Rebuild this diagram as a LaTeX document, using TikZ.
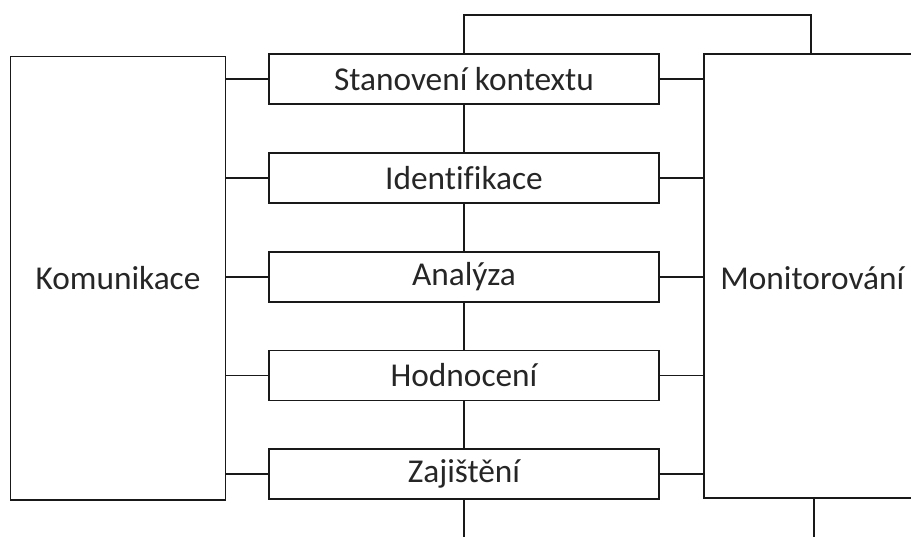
\documentclass[tikz,border=0pt]{standalone}
\usepackage{fontspec}
\setmainfont[Ligatures={NoCommon}]{Carlito}
\begin{document}
\begin{tikzpicture}[x=0.75pt,y=-0.75pt,
  ln/.style={draw=black!90, line width=1.3pt},
  lbl/.style={font=\fontsize{25}{29}\selectfont, text=black!85},
  stepbox/.style={ln, lbl, rectangle, minimum width=390*0.75pt, minimum height=50*0.75pt, inner sep=0pt},
  sidebox/.style={ln, lbl, rectangle, minimum width=215*0.75pt, minimum height=443.5*0.75pt, inner sep=0pt}]
\useasboundingbox (0,0) rectangle (911,536);
\clip (0,0) rectangle (911,536);
\node[sidebox] (kom) at (118,278.3) {Komunikace};
\node[sidebox, minimum width=216*0.75pt, minimum height=444.3*0.75pt] (mon) at (812.3,276.2) {};
\node[lbl] (monl) at (812.3,278) {Monitorování};
\node[stepbox] (s1) at (464,79.3) {Stanovení kontextu};
\node[stepbox] (s2) at (464,178) {Identifikace};
\node[stepbox] (s3) at (464,276.7) {Analýza};
\node[stepbox] (s4) at (464,375.4) {Hodnocení};
\node[stepbox] (s5) at (464,474.1) {Zajištění};
\foreach \i in {1,...,5}{
  \draw[ln] (kom.east |- s\i.west) -- (s\i.west);
  \draw[ln] (s\i.east) -- (mon.west |- s\i.east);
}
\draw[ln] (s1.south) -- (s2.north);
\draw[ln] (s2.south) -- (s3.north);
\draw[ln] (s3.south) -- (s4.north);
\draw[ln] (s4.south) -- (s5.north);
\coordinate (tp) at (811,15.3);
\draw[ln] (s1.north) |- (tp) -- (tp |- mon.north);
\coordinate (b1) at (464,545);
\coordinate (b2) at (814.3,545);
\draw[ln] (s5.south) -- (b1);
\draw[ln] (b2 |- mon.south) -- (b2);
\end{tikzpicture}
\end{document}
